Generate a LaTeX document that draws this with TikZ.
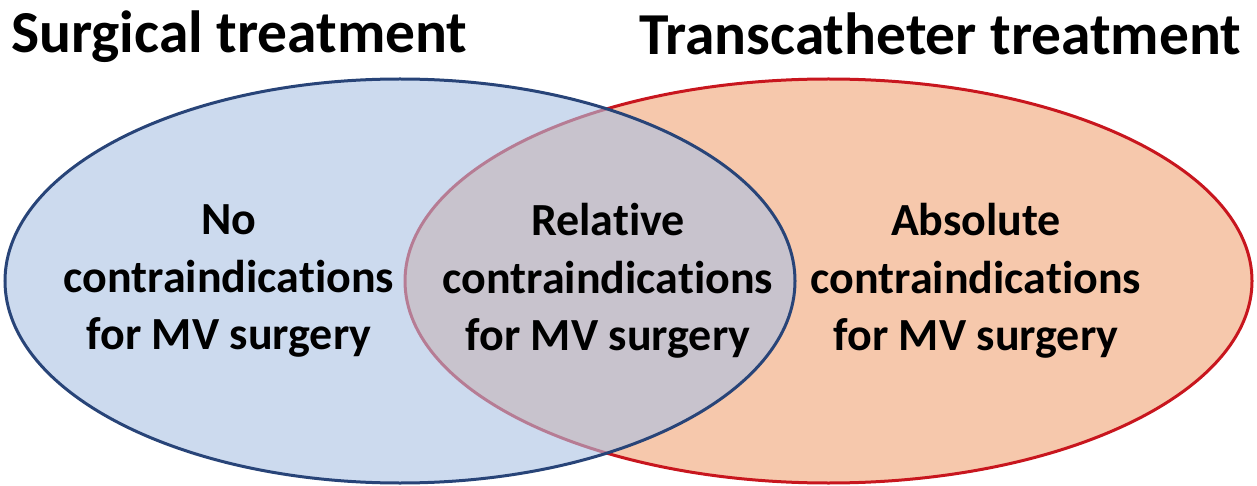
\documentclass[tikz,border=0pt]{standalone}
\usepackage{fontspec}
\setmainfont[Ligatures={NoCommon}]{Carlito}
\usetikzlibrary{shapes.geometric}
\definecolor{bluefill}{RGB}{170,193,227}
\definecolor{blueline}{RGB}{40,68,120}
\definecolor{orangefill}{RGB}{246,200,172}
\definecolor{redline}{RGB}{200,22,30}
\tikzset{
  setel/.style={ellipse, inner sep=0pt, line width=3pt},
  lbl/.style={align=center, font=\bfseries\fontsize{46}{57.5}\selectfont, inner sep=0pt},
  ttl/.style={font=\bfseries\fontsize{59.5}{60}\selectfont, inner sep=0pt, anchor=base west}
}
\begin{document}
\begin{tikzpicture}[x=1pt,y=-1pt]
\useasboundingbox (0,0) rectangle (1257,486);
\node[setel, draw=redline, fill=orangefill, minimum width=847, minimum height=404] (trans) at (828.5,281) {};
\node[setel, draw=blueline, fill=bluefill, fill opacity=0.6, minimum width=790, minimum height=404] (surg) at (400,281) {};
\node[ttl] (t1) at (11,53) {Surgical treatment};
\node[ttl] (t2) at (639,55) {Transcatheter treatment};
\node[lbl] (l1) at (229,281) {No\\contraindications\\for MV surgery};
\node[lbl] (l2) at (608,281) {Relative\\contraindications\\for MV surgery};
\node[lbl] (l3) at (976,281) {Absolute\\contraindications\\for MV surgery};
\end{tikzpicture}
\end{document}
